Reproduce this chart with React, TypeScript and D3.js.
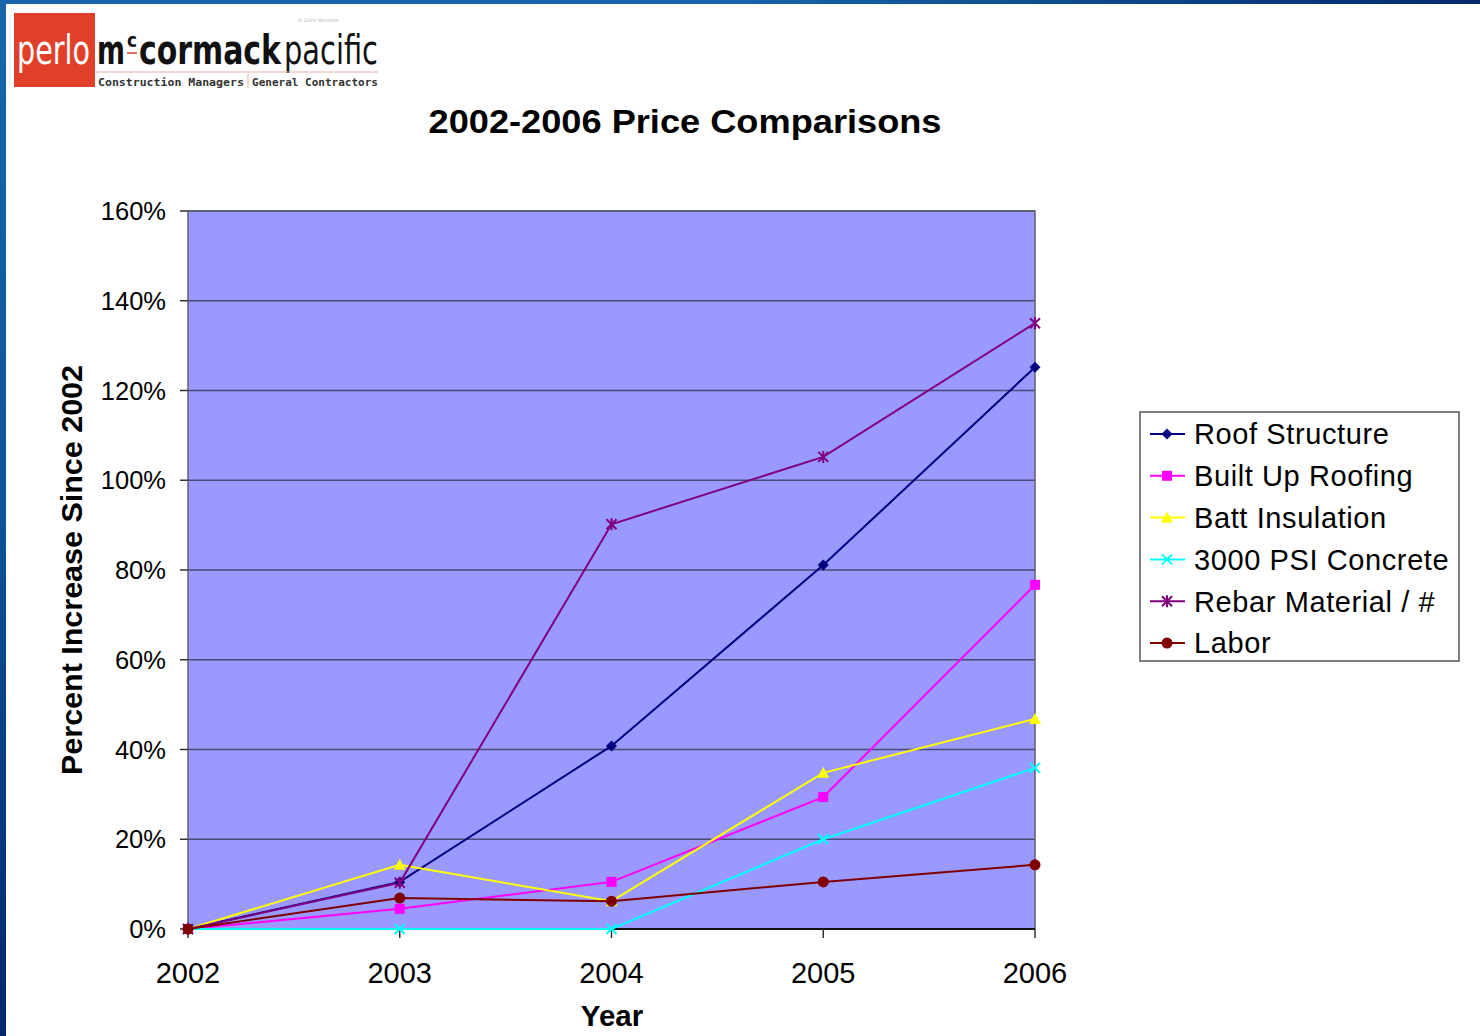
import React, { useLayoutEffect, useRef } from "react";
import * as d3 from "d3";

// Years along the x axis
const years = ["2002", "2003", "2004", "2005", "2006"];

// Percent increase since 2002, per series
const roofStructure = [0, 10.5, 40.8, 81.1, 125.2];
const builtUpRoofing = [0, 4.5, 10.5, 29.4, 76.7];
const battInsulation = [0, 14.3, 6.2, 34.8, 46.8];
const psiConcrete = [0, 0, 0, 20, 35.9];
const rebarMaterial = [0, 10.3, 90.2, 105.2, 135];
const labor = [0, 6.9, 6.2, 10.5, 14.3];

const yTicks = [0, 20, 40, 60, 80, 100, 120, 140, 160];

type Marker = "diamond" | "square" | "triangle" | "x" | "star" | "circle";

const seriesList: { name: string; values: number[]; color: string; marker: Marker }[] = [
  { name: "Roof Structure", values: roofStructure, color: "#000080", marker: "diamond" },
  { name: "Built Up Roofing", values: builtUpRoofing, color: "#FF00FF", marker: "square" },
  { name: "Batt Insulation", values: battInsulation, color: "#FFFF00", marker: "triangle" },
  { name: "3000 PSI Concrete", values: psiConcrete, color: "#00FFFF", marker: "x" },
  { name: "Rebar Material / #", values: rebarMaterial, color: "#800080", marker: "star" },
  { name: "Labor", values: labor, color: "#800000", marker: "circle" },
];

const FONT = "'Liberation Sans', Arial, sans-serif";
const NARROW = "'Liberation Sans Narrow', 'DejaVu Sans Condensed', sans-serif";

const plot = { left: 188, right: 1035, top: 211, bottom: 929 };

const x = d3.scalePoint<string>().domain(years).range([plot.left, plot.right]);
const y = d3.scaleLinear().domain([0, 160]).range([plot.bottom, plot.top]);

function MarkerShape({ type, cx, cy, color }: { type: Marker; cx: number; cy: number; color: string }) {
  const s = 5.5;
  switch (type) {
    case "diamond":
      return <path d={`M${cx},${cy - s} L${cx + s},${cy} L${cx},${cy + s} L${cx - s},${cy} Z`} fill={color} />;
    case "square":
      return <rect x={cx - 5} y={cy - 5} width={10} height={10} fill={color} />;
    case "triangle":
      return <path d={`M${cx},${cy - 6} L${cx + 6},${cy + 5} L${cx - 6},${cy + 5} Z`} fill={color} />;
    case "x":
      return (
        <path
          d={`M${cx - 5},${cy - 5} L${cx + 5},${cy + 5} M${cx - 5},${cy + 5} L${cx + 5},${cy - 5}`}
          stroke={color}
          strokeWidth={2}
        />
      );
    case "star":
      return (
        <path
          d={`M${cx - 5},${cy - 5} L${cx + 5},${cy + 5} M${cx - 5},${cy + 5} L${cx + 5},${cy - 5} M${cx},${cy - 6} L${cx},${cy + 6}`}
          stroke={color}
          strokeWidth={2}
        />
      );
    case "circle":
      return <circle cx={cx} cy={cy} r={5.5} fill={color} />;
  }
}

// Logo word squeezed horizontally to a fixed width
function FitText(props: {
  x: number;
  y: number;
  width: number;
  size: number;
  bold?: boolean;
  fill: string;
  family: string;
  children: string;
}) {
  const ref = useRef<SVGTextElement>(null);
  useLayoutEffect(() => {
    const el = ref.current;
    if (!el) return;
    const w = el.getComputedTextLength();
    const sx = w > 0 ? props.width / w : 1;
    el.setAttribute("transform", `translate(${props.x},${props.y}) scale(${sx},1)`);
  }, [props.x, props.y, props.width]);
  return (
    <text
      ref={ref}
      transform={`translate(${props.x},${props.y})`}
      fontSize={props.size}
      fontWeight={props.bold ? "bold" : "normal"}
      fill={props.fill}
      fontFamily={props.family}
    >
      {props.children}
    </text>
  );
}

export default function App() {
  const line = d3
    .line<number>()
    .x((_, i) => x(years[i]) as number)
    .y((v) => y(v));

  const legendX = 1140;
  const legendY = 412;
  const legendRow = 41.8;

  return (
    <svg
      width={1480}
      height={1036}
      style={{ position: "absolute", left: 0, top: 0, background: "#ffffff" }}
      fontFamily={FONT}
    >
      <defs>
        <linearGradient id="topBand" x1="0" x2="1" y1="0" y2="0">
          <stop offset="0" stopColor="#1a66ad" />
          <stop offset="0.5" stopColor="#1565a8" />
          <stop offset="1" stopColor="#06296e" />
        </linearGradient>
        <linearGradient id="leftBand" x1="0" x2="0" y1="0" y2="1">
          <stop offset="0" stopColor="#1a66ad" />
          <stop offset="0.5" stopColor="#0b539a" />
          <stop offset="1" stopColor="#04266c" />
        </linearGradient>
      </defs>

      {/* slide frame */}
      <rect x={0} y={0} width={1480} height={4} fill="url(#topBand)" />
      <rect x={0} y={0} width={6} height={1036} fill="url(#leftBand)" />

      {/* company logo */}
      <g>
        <rect x={14} y={13} width={81} height={74} fill="#e0402a" />
        <FitText x={17} y={64} width={73} size={40} fill="#ffffff" family={NARROW}>perlo</FitText>
        <FitText x={97} y={64} width={28} size={40} bold fill="#111" family={NARROW}>m</FitText>
        <FitText x={127} y={47} width={10} size={20} bold fill="#111" family={NARROW}>c</FitText>
        <line x1={127} y1={53} x2={137} y2={53} stroke="#d04030" strokeWidth={1.5} />
        <FitText x={139} y={64} width={142} size={40} bold fill="#111" family={NARROW}>cormack</FitText>
        <FitText x={284} y={64} width={94} size={40} fill="#111" family={NARROW}>pacific</FitText>
        <text x={298} y={22} fontSize={6} fill="#c4c4c4">A Joint Venture</text>
        <line x1={96} y1={72} x2={378} y2={72} stroke="#e8b0a8" strokeWidth={1} />
        <FitText x={98} y={86} width={146} size={11} bold fill="#333" family="'DejaVu Sans Mono', monospace">
          Construction Managers
        </FitText>
        <line x1={248} y1={74} x2={248} y2={88} stroke="#e8b0a8" strokeWidth={1} />
        <FitText x={252} y={86} width={126} size={11} bold fill="#333" family="'DejaVu Sans Mono', monospace">
          General Contractors
        </FitText>
      </g>

      {/* title */}
      <text x={685} y={133} textAnchor="middle" fontSize={34} fontWeight="bold" fill="#000" textLength={513} lengthAdjust="spacingAndGlyphs">
        2002-2006 Price Comparisons
      </text>

      {/* plot area */}
      <rect x={plot.left} y={plot.top} width={plot.right - plot.left} height={plot.bottom - plot.top} fill="#9999FF" />

      {/* gridlines */}
      {yTicks.map((t) => (
        <line key={t} x1={plot.left} x2={plot.right} y1={y(t)} y2={y(t)} stroke="#4a4a78" strokeWidth={1.5} />
      ))}
      <rect
        x={plot.left}
        y={plot.top}
        width={plot.right - plot.left}
        height={plot.bottom - plot.top}
        fill="none"
        stroke="#606070"
        strokeWidth={1.5}
      />
      {/* x axis */}
      <line x1={plot.left} x2={plot.right} y1={plot.bottom} y2={plot.bottom} stroke="#111" strokeWidth={2} />
      {years.map((yr) => (
        <line key={yr} x1={x(yr)} x2={x(yr)} y1={plot.bottom} y2={plot.bottom + 9} stroke="#333" strokeWidth={1.5} />
      ))}
      {/* y axis ticks */}
      {yTicks.map((t) => (
        <line key={t} x1={plot.left - 8} x2={plot.left} y1={y(t)} y2={y(t)} stroke="#333" strokeWidth={1.5} />
      ))}

      {/* y tick labels */}
      {yTicks.map((t) => (
        <text key={t} x={166} y={y(t)} dy="0.36em" textAnchor="end" fontSize={25.5} fill="#000">
          {t}%
        </text>
      ))}

      {/* x tick labels */}
      {years.map((yr) => (
        <text key={yr} x={x(yr)} y={983} textAnchor="middle" fontSize={29} fill="#000">
          {yr}
        </text>
      ))}

      {/* axis titles */}
      <text x={612} y={1026} textAnchor="middle" fontSize={29.5} fontWeight="bold" fill="#000">
        Year
      </text>
      <text
        transform={`translate(82, ${(plot.top + plot.bottom) / 2}) rotate(-90)`}
        textAnchor="middle"
        fontSize={29}
        fontWeight="bold"
        fill="#000"
        textLength={410}
        lengthAdjust="spacingAndGlyphs"
      >
        Percent Increase Since 2002
      </text>

      {/* series lines */}
      {seriesList.map((s) => (
        <path key={s.name} d={line(s.values) ?? ""} fill="none" stroke={s.color} strokeWidth={2} />
      ))}
      {/* series markers */}
      {seriesList.map((s) =>
        s.values.map((v, i) => (
          <MarkerShape key={s.name + i} type={s.marker} cx={x(years[i]) as number} cy={y(v)} color={s.color} />
        ))
      )}

      {/* legend */}
      <rect x={legendX} y={legendY} width={319} height={249} fill="#ffffff" stroke="#555" strokeWidth={1.5} />
      {seriesList.map((s, i) => {
        const cy = legendY + 22 + i * legendRow;
        return (
          <g key={s.name}>
            <line x1={legendX + 10} x2={legendX + 45} y1={cy} y2={cy} stroke={s.color} strokeWidth={2} />
            <MarkerShape type={s.marker} cx={legendX + 27} cy={cy} color={s.color} />
            <text x={legendX + 54} y={cy} dy="0.36em" fontSize={29} letterSpacing={0.6} fill="#000">
              {s.name}
            </text>
          </g>
        );
      })}
    </svg>
  );
}
